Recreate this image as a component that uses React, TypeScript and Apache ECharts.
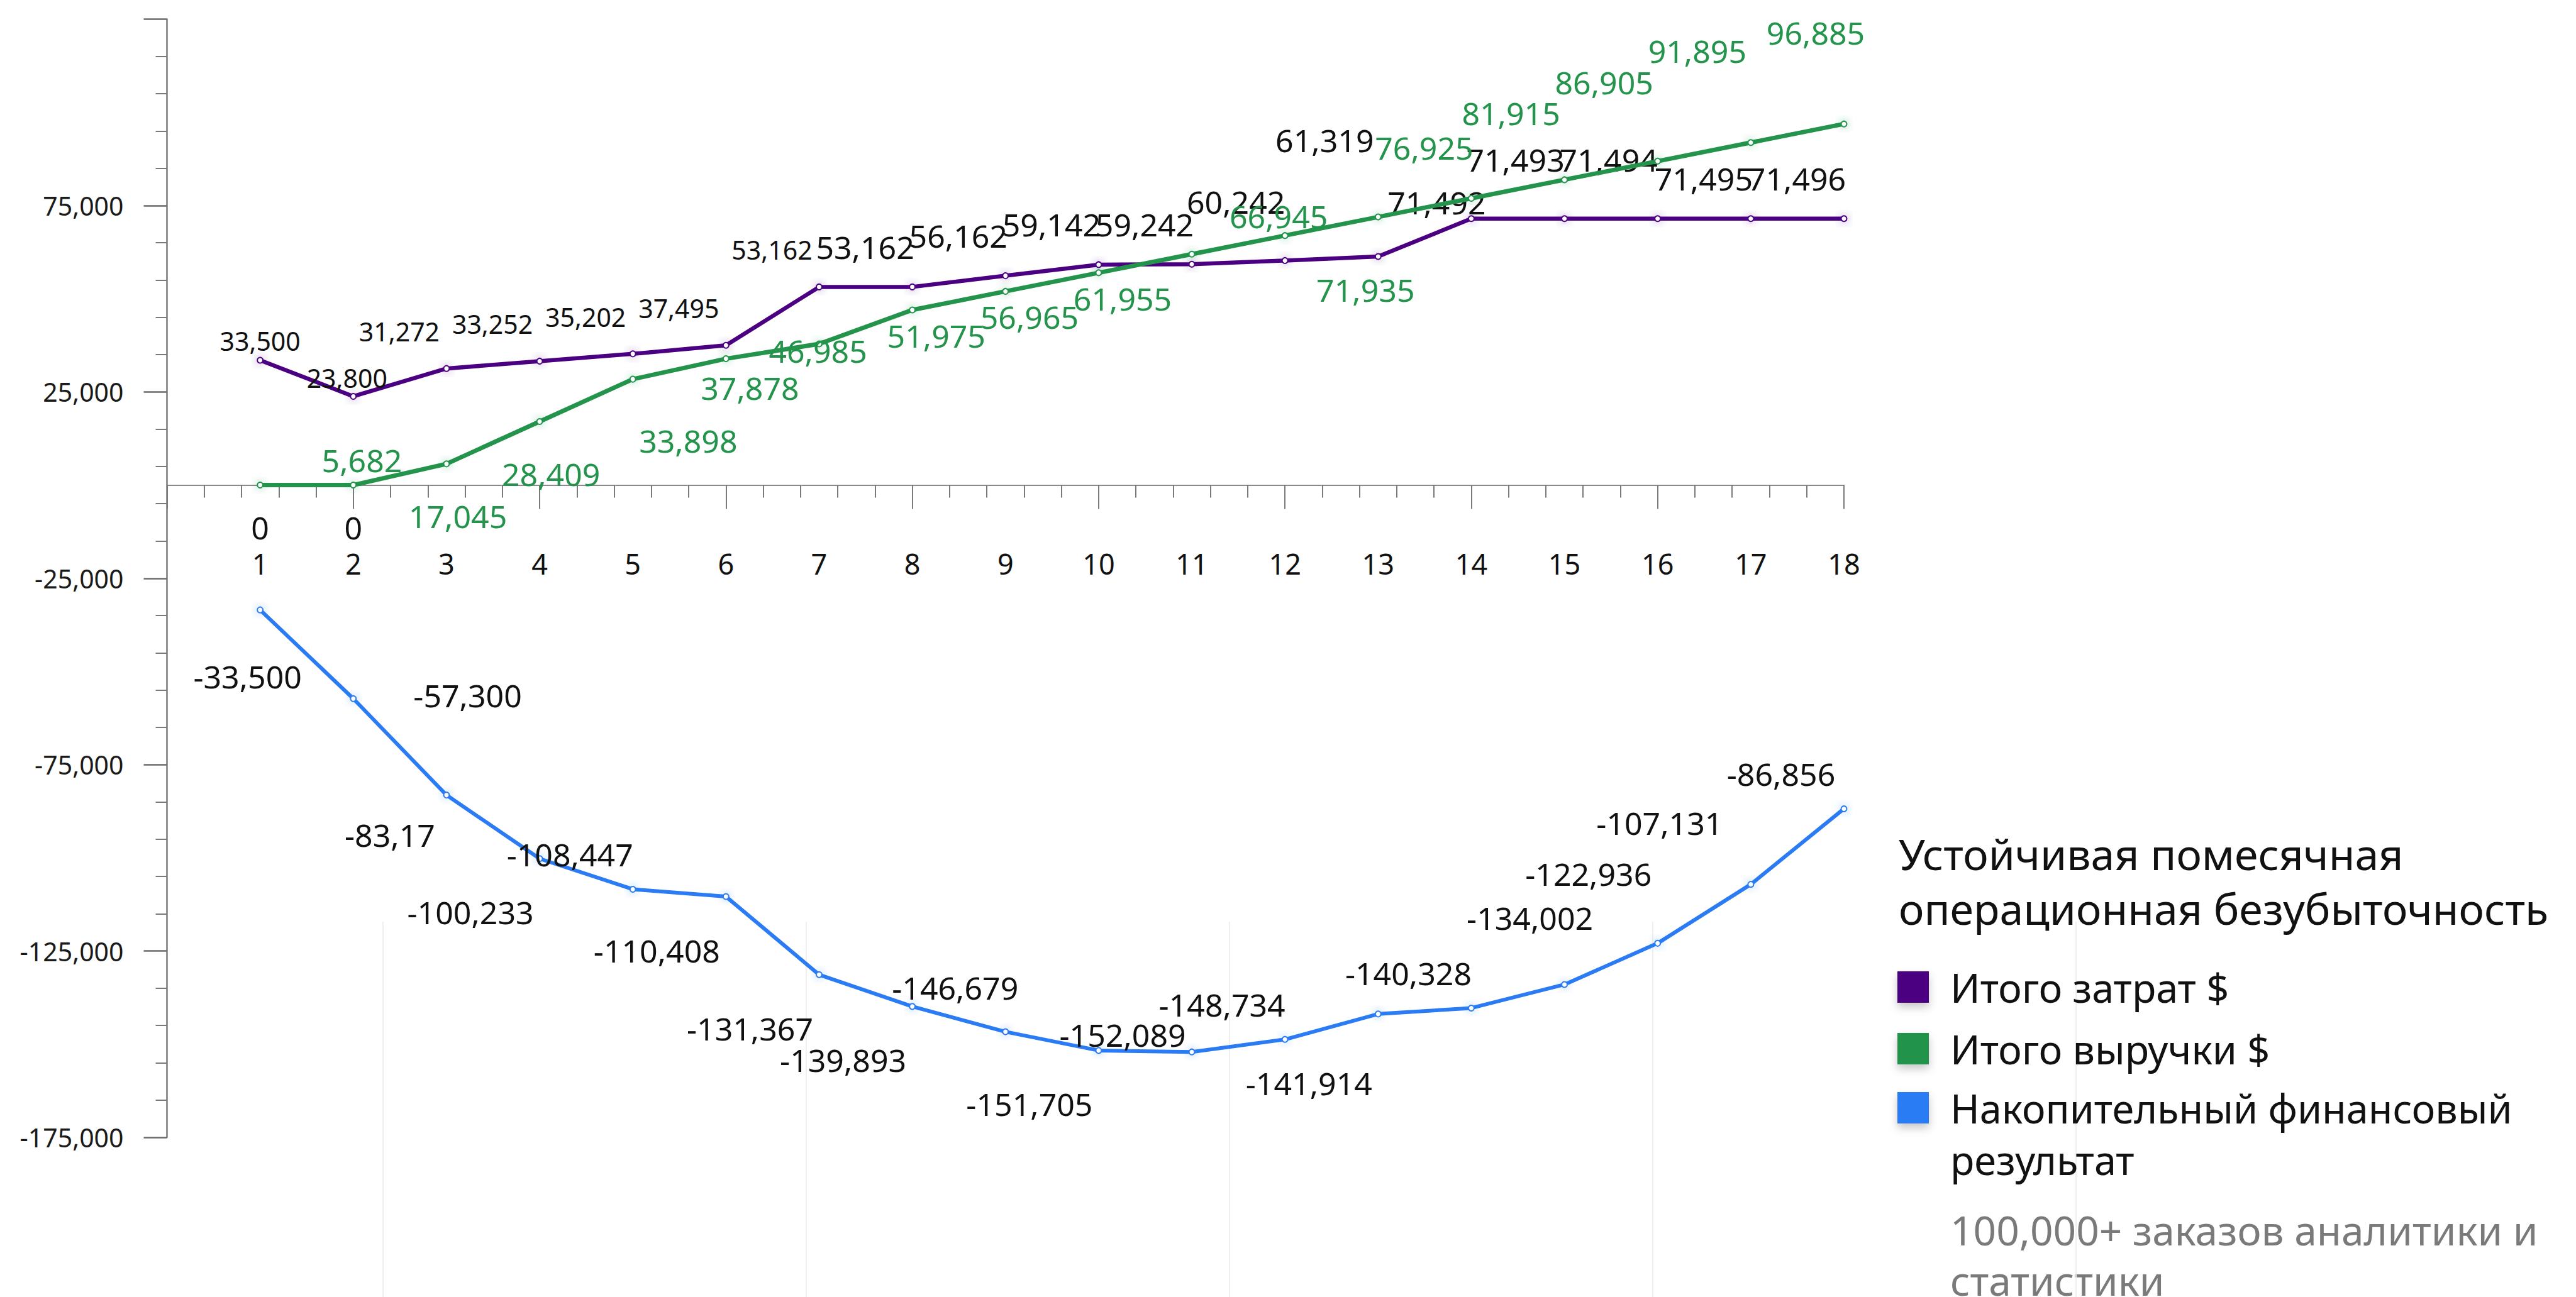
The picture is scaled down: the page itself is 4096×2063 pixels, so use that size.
import React, { useEffect, useRef } from 'react';
import * as echarts from 'echarts';

// Month numbers along the horizontal axis
const months = [1, 2, 3, 4, 5, 6, 7, 8, 9, 10, 11, 12, 13, 14, 15, 16, 17, 18];

// Monthly totals, $
const costs = [33500, 23800, 31272, 33252, 35202, 37495, 53162, 53162, 56162, 59142, 59242, 60242, 61319, 71492, 71493, 71494, 71495, 71496];
const revenue = [0, 0, 5682, 17045, 28409, 33898, 37878, 46985, 51975, 56965, 61955, 66945, 71935, 76925, 81915, 86905, 91895, 96885];
const cumulative = [-33500, -57300, -83170, -100233, -108447, -110408, -131367, -139893, -146679, -151705, -152089, -148734, -141914, -140328, -134002, -122936, -107131, -86856];

// Label texts that are printed differently from the plain number
const cumulativeLabelText: Record<number, string> = { 2: '-83,17' };

// Value axis range and step
const yMin = -175000;
const yMax = 125000;
const yStep = 50000;
const yHiddenTick = 125000;

// Where each point's label sits relative to its marker
const costLabelSides = ['top', 'topNear', 'topLeft', 'topLeft', 'topLeft', 'topLeft', 'topLeft', 'topLeft', 'topLeft', 'topLeft', 'topLeft', 'topLeftUp', 'topLeftHighest', 'leftUp', 'topLeftUp', 'topLeftUp', 'topLeft', 'topLeft'];
const revenueLabelSides = ['under', 'under', 'left', 'belowLeftFar', 'belowLeftFar', 'belowFar', 'belowLeft', 'belowLeftWide', 'belowLeft', 'belowLeft', 'belowLeft', 'onLine', 'bottomFar', 'raised1', 'raised2', 'raised3', 'raised4', 'raised5'];
const cumulativeLabelSides = ['belowStraight', 'rightFar', 'downLeftShort', 'downLeft', 'upLeft', 'downLeft', 'downLeft', 'downLeft', 'upSlight', 'downLeft', 'besideLeft', 'upLeft', 'downLeftNear', 'upLeft', 'upHigh', 'upLeftHigh', 'upLeftFar', 'upLeft'];
const costSmallLabelCount = 7;

const placements: Record<string, { position: string; offset: number[] }> = {
  top: { position: 'top', offset: [0, 0] },
  topNear: { position: 'top', offset: [-10, 2] },
  topLeft: { position: 'top', offset: [-75, -28] },
  topLeftUp: { position: 'top', offset: [-78, -58] },
  topLeftHighest: { position: 'top', offset: [-85, -150] },
  leftUp: { position: 'top', offset: [-55, 10] },
  left: { position: 'left', offset: [-60, -6] },
  under: { position: 'bottom', offset: [0, 32] },
  belowLeftFar: { position: 'bottom', offset: [-130, 115] },
  belowFar: { position: 'bottom', offset: [-60, 95] },
  belowLeft: { position: 'bottom', offset: [-110, 35] },
  belowLeftWide: { position: 'bottom', offset: [-150, 30] },
  onLine: { position: 'top', offset: [-10, 5] },
  bottomFar: { position: 'bottom', offset: [-20, 80] },
  raised1: { position: 'top', offset: [-75, -45] },
  raised2: { position: 'top', offset: [-85, -70] },
  raised3: { position: 'top', offset: [-85, -90] },
  raised4: { position: 'top', offset: [-85, -110] },
  raised5: { position: 'top', offset: [-45, -110] },
  belowStraight: { position: 'bottom', offset: [-20, 70] },
  rightFar: { position: 'right', offset: [85, -5] },
  downLeft: { position: 'bottom', offset: [-110, 50] },
  downLeftShort: { position: 'bottom', offset: [-90, 28] },
  downLeftNear: { position: 'bottom', offset: [-110, 75] },
  besideLeft: { position: 'top', offset: [-110, 8] },
  upLeft: { position: 'top', offset: [-100, -20] },
  upLeftHigh: { position: 'top', offset: [-110, -75] },
  upLeftFar: { position: 'top', offset: [-145, -62] },
  upSlight: { position: 'top', offset: [-80, -35] },
  upHigh: { position: 'top', offset: [-55, -70] },
};

const FONT = '"Noto Sans", "Open Sans", sans-serif';
const PURPLE = '#4b0082';
const GREEN = '#24934b';
const BLUE = '#2a7bf4';
const INK = '#111111';

const NAME_COSTS = 'Итого затрат $';
const NAME_REVENUE = 'Итого выручки $';
const NAME_CUMULATIVE = 'Накопительный финансовый результат';

const fmt = (v: number) => Math.round(v).toLocaleString('en-US');

function labelFor(side: string, fontSize: number, color: string) {
  const p = placements[side];
  return { position: p.position, offset: p.offset, fontSize, color };
}

// Plot area in page pixels
const PLOT = { left: 265.5, top: 30.5, width: 2932 - 265.5, height: 1809 - 30.5 };
// Distance from the bottom of the plot up to the zero line
const zeroLift = (PLOT.height * -yMin) / (yMax - yMin);

export default function App() {
  const ref = useRef<HTMLDivElement>(null);

  useEffect(() => {
    if (!ref.current) return;
    const chart = echarts.init(ref.current, null, { renderer: 'svg' });

    const costData = months.map((m, i) => ({
      value: [m, costs[i]],
      label: labelFor(costLabelSides[i], i < costSmallLabelCount ? 41 : 50, INK),
    }));
    const revenueData = months.map((m, i) => ({
      value: [m, revenue[i]],
      label: labelFor(revenueLabelSides[i], 50, revenue[i] === 0 ? INK : GREEN),
    }));
    const cumulativeData = months.map((m, i) => ({
      value: [m, cumulative[i]],
      label: labelFor(cumulativeLabelSides[i], 50, INK),
    }));

    const legendBase = {
      orient: 'vertical',
      left: 3017,
      padding: 0,
      icon: 'rect',
      itemWidth: 50,
      itemHeight: 50,
      selectedMode: false,
      itemStyle: { shadowBlur: 14, shadowColor: 'rgba(0,0,0,0.22)', shadowOffsetY: 7, borderWidth: 0 },
    };
    const legendText = { fontSize: 63, color: INK, fontFamily: FONT, lineHeight: 82, padding: [0, 0, 0, 29] };

    const option: any = {
      animation: false,
      textStyle: { fontFamily: FONT },
      grid: [
        { ...PLOT },
        { ...PLOT },
        { left: 608.7, top: 1466, width: 2692.3, height: 597 },
      ],
      xAxis: [
        {
          gridIndex: 0,
          type: 'value',
          min: 0,
          max: 18,
          interval: 2,
          axisLine: { show: true, onZero: true, lineStyle: { color: '#8a8a8a', width: 2 } },
          axisTick: { show: true, length: 38, lineStyle: { color: '#7a7a7a', width: 2 } },
          minorTick: { show: true, splitNumber: 5, length: 20, lineStyle: { color: '#7a7a7a', width: 2 } },
          axisLabel: { show: false },
          splitLine: { show: false },
        },
        {
          // month numbers, one per month, riding on the zero line
          gridIndex: 1,
          type: 'value',
          position: 'bottom',
          offset: -zeroLift,
          min: 0,
          max: 18,
          interval: 1,
          axisLine: { show: false, onZero: false },
          axisTick: { show: false },
          axisLabel: {
            margin: 102,
            fontSize: 45,
            color: INK,
            fontFamily: FONT,
            formatter: (v: number) => (v === 0 ? '' : String(v)),
          },
          splitLine: { show: false },
        },
        {
          gridIndex: 2,
          type: 'value',
          min: 0,
          max: 4,
          interval: 1,
          axisLine: { show: false },
          axisTick: { show: false },
          axisLabel: { show: false },
          splitLine: { show: true, lineStyle: { color: '#efefef', width: 2 } },
        },
      ],
      yAxis: [
        {
          gridIndex: 0,
          type: 'value',
          min: yMin,
          max: yMax,
          interval: yStep,
          axisLine: { show: true, lineStyle: { color: '#7a7a7a', width: 2.5 } },
          axisTick: { show: true, length: 37, lineStyle: { color: '#6a6a6a', width: 2.5 } },
          minorTick: { show: true, splitNumber: 5, length: 18, lineStyle: { color: '#7a7a7a', width: 2 } },
          axisLabel: {
            margin: 69,
            fontSize: 41,
            color: '#1a1a1a',
            fontFamily: FONT,
            formatter: (v: number) => (v === yHiddenTick ? '' : fmt(v)),
          },
          splitLine: { show: false },
        },
        { gridIndex: 1, type: 'value', min: yMin, max: yMax, show: false },
        { gridIndex: 2, type: 'value', show: false },
      ],
      legend: [
        { ...legendBase, top: 1529, data: [NAME_COSTS], textStyle: legendText },
        { ...legendBase, top: 1627, data: [NAME_REVENUE], textStyle: legendText },
        {
          // the name starts level with the swatch and wraps onto a second line below it
          ...legendBase,
          top: 1639,
          data: [NAME_CUMULATIVE],
          formatter: () => '\nНакопительный финансовый\nрезультат',
          textStyle: legendText,
        },
      ],
      graphic: [
        {
          type: 'text',
          left: 3019,
          top: 1314,
          style: {
            text: 'Устойчивая помесячная\nоперационная безубыточность',
            fontSize: 68,
            lineHeight: 87,
            fill: INK,
            fontFamily: FONT,
          },
        },
        {
          type: 'text',
          left: 3101,
          top: 1916,
          style: {
            text: '100,000+ заказов аналитики и\nстатистики',
            fontSize: 64,
            lineHeight: 80,
            fill: '#7a7a7a',
            fontFamily: FONT,
          },
        },
      ],
      series: [
        {
          name: NAME_COSTS,
          type: 'line',
          xAxisIndex: 0,
          yAxisIndex: 0,
          data: costData,
          symbol: 'emptyCircle',
          symbolSize: 9,
          z: 3,
          lineStyle: { width: 6.5, color: PURPLE },
          itemStyle: { color: PURPLE, borderWidth: 2.5, shadowBlur: 14, shadowColor: 'rgba(75,0,130,0.45)' },
          label: { show: true, fontFamily: FONT, formatter: (p: any) => fmt(p.value[1]) },
        },
        {
          name: NAME_REVENUE,
          type: 'line',
          xAxisIndex: 0,
          yAxisIndex: 0,
          data: revenueData,
          symbol: 'emptyCircle',
          symbolSize: 9,
          z: 4,
          lineStyle: { width: 7, color: GREEN },
          itemStyle: { color: GREEN, borderWidth: 2.5, shadowBlur: 14, shadowColor: 'rgba(36,147,75,0.45)' },
          label: { show: true, fontFamily: FONT, formatter: (p: any) => fmt(p.value[1]) },
        },
        {
          name: NAME_CUMULATIVE,
          type: 'line',
          xAxisIndex: 0,
          yAxisIndex: 0,
          data: cumulativeData,
          symbol: 'emptyCircle',
          symbolSize: 9,
          z: 3,
          lineStyle: { width: 6, color: BLUE },
          itemStyle: { color: BLUE, borderWidth: 2.5, shadowBlur: 14, shadowColor: 'rgba(42,123,244,0.45)' },
          label: {
            show: true,
            fontFamily: FONT,
            formatter: (p: any) => cumulativeLabelText[p.dataIndex] ?? fmt(p.value[1]),
          },
        },
      ],
    };

    chart.setOption(option);
    return () => chart.dispose();
  }, []);

  return (
    <div
      ref={ref}
      style={{ position: 'fixed', left: 0, top: 0, width: 4096, height: 2063, background: '#ffffff' }}
    />
  );
}
